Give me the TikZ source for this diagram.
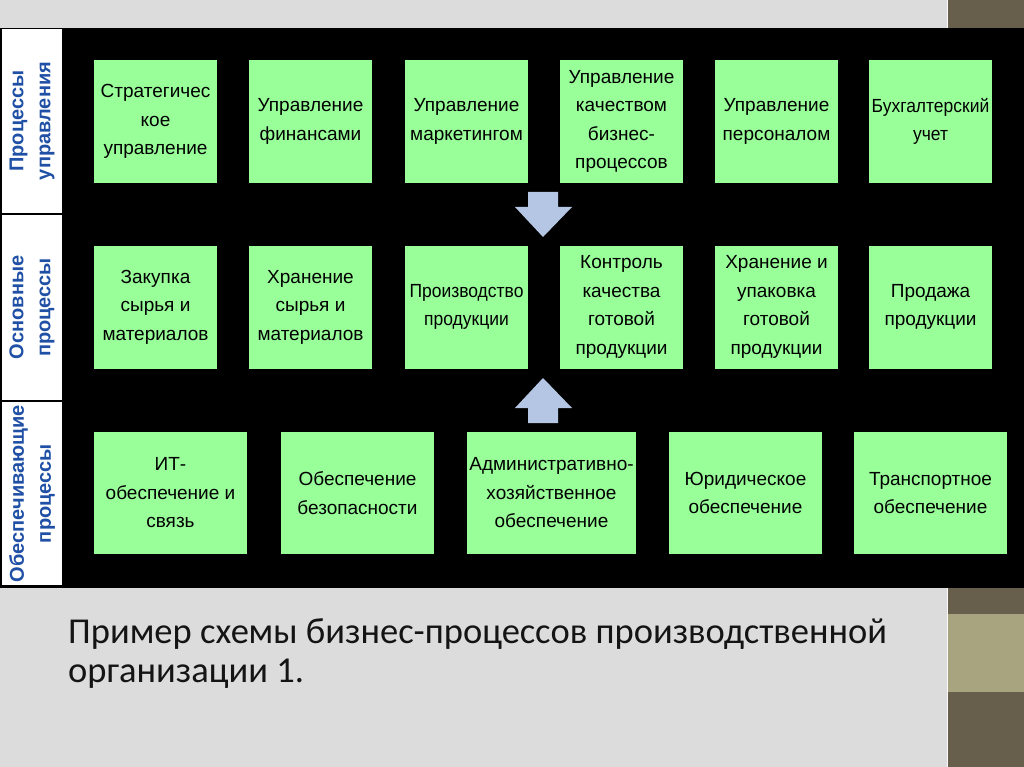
\documentclass[tikz,border=0pt]{standalone}
\usepackage{fontspec}
\setmainfont{Liberation Sans}
\newfontfamily\boxfont{Liberation Sans}
\newfontfamily\boxfontc[FakeStretch=0.92]{Liberation Sans}
\newfontfamily\titlefont{Carlito}
\definecolor{bggray}{RGB}{220,220,220}
\definecolor{olivedark}{RGB}{103,95,75}
\definecolor{olivelight}{RGB}{168,164,128}
\definecolor{boxgreen}{RGB}{153,255,153}
\definecolor{arrowblue}{RGB}{180,198,228}
\definecolor{labelblue}{RGB}{32,80,165}
\begin{document}
\begin{tikzpicture}[x=1pt,y=-1pt,
  pbox/.style={fill=boxgreen, inner sep=0pt, align=center,
     font=\boxfont\fontsize{19}{28.5}\selectfont, text=black},
  pboxc/.style={pbox, font=\boxfontc\fontsize{19}{28.5}\selectfont},
  sidelab/.style={fill=white, inner sep=0pt, align=center, rotate=90,
     font=\boxfont\bfseries\fontsize{20}{27}\selectfont, text=labelblue},
  titletext/.style={anchor=base west, inner sep=0pt,
     font=\titlefont\fontsize{36.5}{40}\selectfont, text={rgb,255:red,20;green,20;blue,20}}
]
\useasboundingbox (0,0) rectangle (1024,767);
% background
\fill[bggray] (0,0) rectangle (1024,767);
\fill[olivedark] (948,0) rectangle (1024,767);
\fill[olivelight] (948,614) rectangle (1024,692);
\draw[white!85!bggray, line width=1pt] (947.5,0) -- (947.5,767);
\fill[black] (0,28) rectangle (1024,588);

% left labels
\node[sidelab, minimum width=184pt, minimum height=60pt] (l1) at (32,121) {Процессы\\управления};
\node[sidelab, minimum width=185pt, minimum height=60pt] (l2) at (32,307.5) {Основные\\процессы};
\node[sidelab, minimum width=183pt, minimum height=60pt] (l3) at (32,493.5) {Обеспечивающие\\процессы};

% row 1
\node[pbox, minimum width=123pt, minimum height=123pt] (a1) at (155.5,121.5) {Стратегичес\\кое\\управление};
\node[pbox, minimum width=123pt, minimum height=123pt] (a2) at (310.5,121.5) {Управление\\финансами};
\node[pbox, minimum width=123pt, minimum height=123pt] (a3) at (466.5,121.5) {Управление\\маркетингом};
\node[pbox, minimum width=123pt, minimum height=123pt] (a4) at (621.5,121.5) {Управление\\качеством\\бизнес-\\процессов};
\node[pbox, minimum width=123pt, minimum height=123pt] (a5) at (776.5,121.5) {Управление\\персоналом};
\node[pboxc, minimum width=123pt, minimum height=123pt] (a6) at (930.5,121.5) {Бухгалтерский\\учет};

% row 2
\node[pbox, minimum width=123pt, minimum height=123pt] (b1) at (155.5,307) {Закупка\\сырья и\\материалов};
\node[pbox, minimum width=123pt, minimum height=123pt] (b2) at (310.5,307) {Хранение\\сырья и\\материалов};
\node[pboxc, minimum width=123pt, minimum height=123pt] (b3) at (466.5,307) {Производство\\продукции};
\node[pbox, minimum width=123pt, minimum height=123pt] (b4) at (621.5,307) {Контроль\\качества\\готовой\\продукции};
\node[pbox, minimum width=123pt, minimum height=123pt] (b5) at (776.5,307) {Хранение и\\упаковка\\готовой\\продукции};
\node[pbox, minimum width=123pt, minimum height=123pt] (b6) at (930.5,307) {Продажа\\продукции};

% row 3
\node[pbox, minimum width=153pt, minimum height=122pt] (c1) at (170.5,493) {ИТ-\\обеспечение и\\связь};
\node[pbox, minimum width=153pt, minimum height=122pt] (c2) at (357.5,493) {Обеспечение\\безопасности};
\node[pbox, minimum width=169pt, minimum height=122pt] (c3) at (551.5,493) {Административно-\\хозяйственное\\обеспечение};
\node[pbox, minimum width=153pt, minimum height=122pt] (c4) at (745.5,493) {Юридическое\\обеспечение};
\node[pbox, minimum width=153pt, minimum height=122pt] (c5) at (930.5,493) {Транспортное\\обеспечение};

% block arrows
\fill[arrowblue] (528,192) -- (558,192) -- (558,207) -- (572,207) -- (543,237)
   -- (515,207) -- (528,207) -- cycle;
\fill[arrowblue] (528,423) -- (558,423) -- (558,408) -- (572,408) -- (543,378)
   -- (515,408) -- (528,408) -- cycle;

% title
\node[titletext] (t1) at (68,643) {Пример схемы бизнес-процессов производственной};
\node[titletext] (t2) at (68,682) {организации 1.};
\end{tikzpicture}
\end{document}
